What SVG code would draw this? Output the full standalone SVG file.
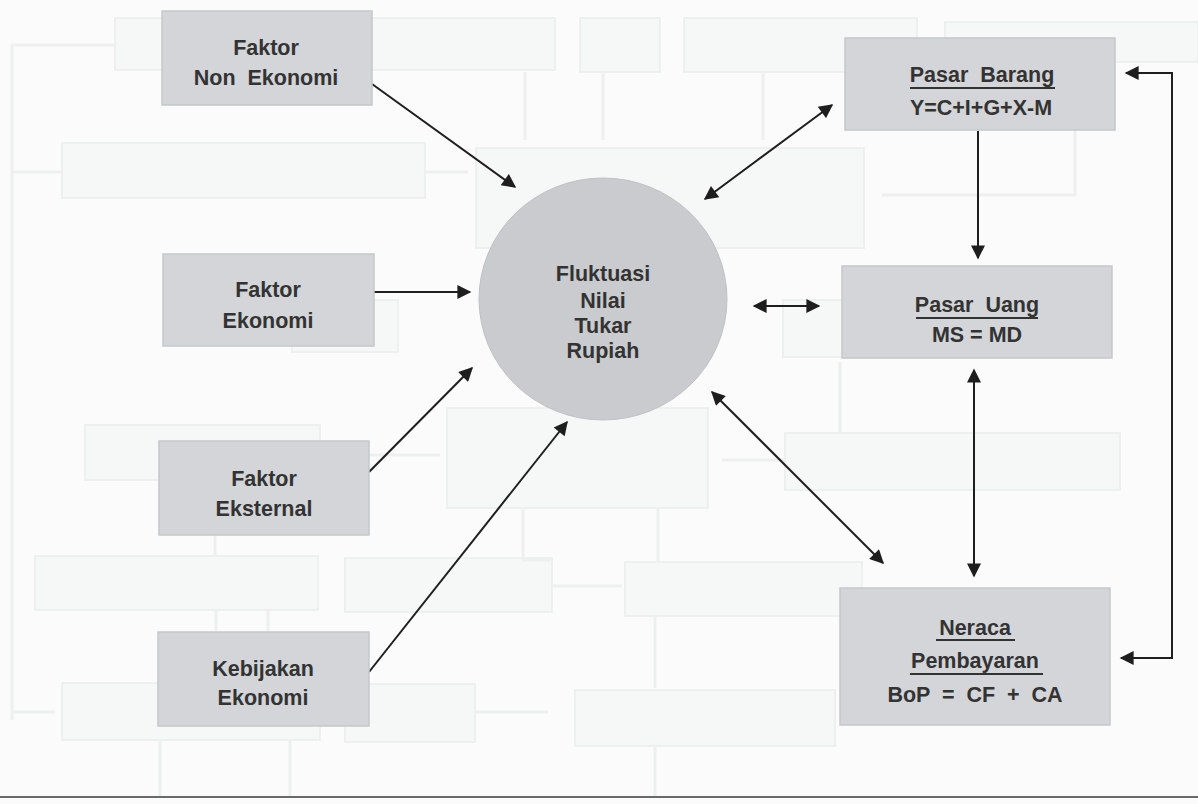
<svg xmlns="http://www.w3.org/2000/svg" width="1198" height="804" viewBox="0 0 1198 804">
<defs>
<marker id="ah" viewBox="0 0 10 10" refX="9" refY="5" markerWidth="8" markerHeight="7" markerUnits="strokeWidth" orient="auto-start-reverse">
<path d="M0,0 L10,5 L0,10 z" fill="#1e1e1e"/>
</marker>
</defs>
<style>
.bg{fill:#fbfbfb}
.ghost{fill:#f6f7f7;stroke:#eeefef;stroke-width:2}
.gl{fill:none;stroke:#eeefef;stroke-width:3}
.box{fill:#d3d5d8;stroke:#c5c7c9;stroke-width:1.5}
.ell{fill:#c9cbce;stroke:#bfc1c4;stroke-width:1}
.t{font-family:"Liberation Sans",Arial,sans-serif;font-size:21.5px;font-weight:bold;fill:#333;text-anchor:middle}
.ul{stroke:#333;stroke-width:2}
.c{fill:none;stroke:#1e1e1e;stroke-width:2}
</style>
<rect class="bg" x="0" y="0" width="1198" height="804"/>
<g id="ghost">
<rect class="ghost" x="115" y="18" width="440" height="52"/>
<rect class="ghost" x="580" y="18" width="80" height="54"/>
<rect class="ghost" x="684" y="18" width="233" height="54"/>
<rect class="ghost" x="945" y="22" width="253" height="40"/>
<rect class="ghost" x="62" y="143" width="363" height="55"/>
<rect class="ghost" x="476" y="148" width="388" height="100"/>
<rect class="ghost" x="292" y="300" width="106" height="52"/>
<rect class="ghost" x="783" y="300" width="107" height="57"/>
<rect class="ghost" x="85" y="425" width="235" height="55"/>
<rect class="ghost" x="447" y="408" width="261" height="100"/>
<rect class="ghost" x="785" y="433" width="335" height="57"/>
<rect class="ghost" x="35" y="556" width="283" height="54"/>
<rect class="ghost" x="345" y="558" width="207" height="54"/>
<rect class="ghost" x="625" y="562" width="237" height="54"/>
<rect class="ghost" x="62" y="683" width="258" height="57"/>
<rect class="ghost" x="345" y="684" width="130" height="58"/>
<rect class="ghost" x="575" y="690" width="260" height="56"/>
<path class="gl" d="M115,45 H12 V720 M12,172 H62 M525,72 V140 M603,72 V140 M763,72 V140 M425,172 H468 M1075,62 V195 H882 M320,455 H440 M785,460 H722 M840,433 V362 M215,480 V556 M523,508 V560 H552 M658,508 V562 M552,586 H622 M655,616 V688 M216,610 V683 M268,610 V683 M475,712 H548 M12,712 H55 M160,740 V797 M290,740 V797 M655,746 V797"/>
</g>
<g id="connectors">
<line class="c" x1="372" y1="84" x2="515" y2="187" marker-end="url(#ah)"/>
<line class="c" x1="374" y1="292" x2="470" y2="292" marker-end="url(#ah)"/>
<line class="c" x1="369" y1="472" x2="472" y2="368" marker-end="url(#ah)"/>
<line class="c" x1="369" y1="672" x2="567" y2="422" marker-end="url(#ah)"/>
<line class="c" x1="705" y1="199" x2="832" y2="105" marker-start="url(#ah)" marker-end="url(#ah)"/>
<line class="c" x1="754" y1="306" x2="819" y2="306" marker-start="url(#ah)" marker-end="url(#ah)"/>
<line class="c" x1="712" y1="392" x2="883" y2="563" marker-start="url(#ah)" marker-end="url(#ah)"/>
<line class="c" x1="978" y1="131" x2="978" y2="258" marker-end="url(#ah)"/>
<line class="c" x1="974" y1="370" x2="974" y2="576" marker-start="url(#ah)" marker-end="url(#ah)"/>
<path class="c" d="M1126,73 H1172 V658 H1121" marker-start="url(#ah)" marker-end="url(#ah)"/>
</g>
<g id="faktor-non-ekonomi">
<rect class="box" x="162" y="11" width="210" height="94"/>
<text class="t" x="266" y="55">Faktor</text>
<text class="t" x="266" y="85" xml:space="preserve">Non  Ekonomi</text>
</g>
<g id="faktor-ekonomi">
<rect class="box" x="163" y="254" width="211" height="92"/>
<text class="t" x="268" y="297">Faktor</text>
<text class="t" x="268" y="328">Ekonomi</text>
</g>
<g id="faktor-eksternal">
<rect class="box" x="159" y="441" width="210" height="94"/>
<text class="t" x="264" y="486">Faktor</text>
<text class="t" x="264" y="516">Eksternal</text>
</g>
<g id="kebijakan-ekonomi">
<rect class="box" x="158" y="632" width="211" height="94"/>
<text class="t" x="263" y="676">Kebijakan</text>
<text class="t" x="263" y="705">Ekonomi</text>
</g>
<g id="fluktuasi">
<ellipse class="ell" cx="603" cy="299" rx="124" ry="121"/>
<text class="t" x="603" y="281">Fluktuasi</text>
<text class="t" x="603" y="308">Nilai</text>
<text class="t" x="603" y="333">Tukar</text>
<text class="t" x="603" y="358">Rupiah</text>
</g>
<g id="pasar-barang">
<rect class="box" x="845" y="38" width="270" height="92"/>
<text class="t" x="982" y="82" xml:space="preserve">Pasar  Barang</text>
<line class="ul" x1="910" y1="88" x2="1055" y2="88"/>
<text class="t" x="981" y="115">Y=C+I+G+X-M</text>
</g>
<g id="pasar-uang">
<rect class="box" x="842" y="266" width="270" height="92"/>
<text class="t" x="977" y="312" xml:space="preserve">Pasar  Uang</text>
<line class="ul" x1="916" y1="318" x2="1038" y2="318"/>
<text class="t" x="977" y="342">MS = MD</text>
</g>
<g id="neraca-pembayaran">
<rect class="box" x="840" y="588" width="270" height="137"/>
<text class="t" x="975" y="635">Neraca</text>
<line class="ul" x1="936" y1="640" x2="1015" y2="640"/>
<text class="t" x="975" y="668">Pembayaran</text>
<line class="ul" x1="910" y1="674" x2="1043" y2="674"/>
<text class="t" x="975" y="702" xml:space="preserve">BoP  =  CF  +  CA</text>
</g>
<line x1="0" y1="797" x2="1198" y2="797" stroke="#6a6a6a" stroke-width="2"/>
</svg>
